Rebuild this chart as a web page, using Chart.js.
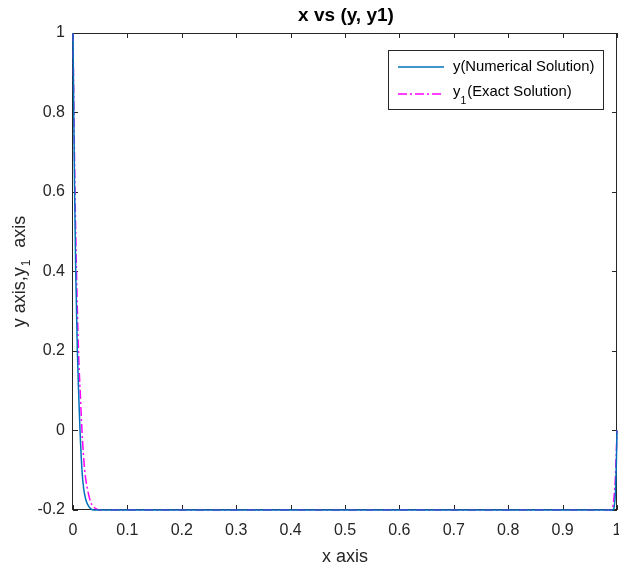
<!DOCTYPE html>
<html>
<head>
<meta charset="utf-8">
<script src="https://cdn.jsdelivr.net/npm/chart.js@4"></script>
<style>
html,body{margin:0;padding:0;background:#fff;}
#wrap{width:619px;height:569px;position:relative;}
</style>
</head>
<body>
<div id="wrap"><canvas id="c" width="619" height="569"></canvas></div>
<script>
// ---- data ----
const chartTitle = "x vs (y, y1)";
const xAxisTitle = "x axis";
const seriesNames = ["y(Numerical Solution)", "(Exact Solution)"];

const xNumerical = [0, 0.0007, 0.0014, 0.003, 0.005, 0.008, 0.0105, 0.0129, 0.0165, 0.02, 0.025, 0.03, 0.037, 0.05, 0.2, 0.5, 0.8, 0.993, 0.995, 0.997, 0.998, 0.999, 1];
const yNumerical = [1, 0.9, 0.8, 0.6, 0.4, 0.2, 0.09, 0, -0.1, -0.15, -0.18, -0.193, -0.2, -0.2, -0.2, -0.2, -0.2, -0.2, -0.19, -0.16, -0.12, -0.07, 0];

const xExact = [0, 0.0008, 0.0017, 0.0037, 0.0064, 0.0101, 0.0135, 0.0165, 0.0215, 0.027, 0.0325, 0.04, 0.05, 0.2, 0.5, 0.8, 0.99, 0.993, 0.995, 0.997, 0.998, 0.999, 1];
const yExact = [1, 0.9, 0.8, 0.6, 0.4, 0.2, 0.09, 0, -0.1, -0.15, -0.18, -0.195, -0.2, -0.2, -0.2, -0.2, -0.2, -0.187, -0.16, -0.12, -0.08, -0.045, 0];

const xTickValues = [0, 0.1, 0.2, 0.3, 0.4, 0.5, 0.6, 0.7, 0.8, 0.9, 1];
const xTickLabels = ["0", "0.1", "0.2", "0.3", "0.4", "0.5", "0.6", "0.7", "0.8", "0.9", "1"];
const yTickValues = [-0.2, 0, 0.2, 0.4, 0.6, 0.8, 1];
const yTickLabels = ["-0.2", "0", "0.2", "0.4", "0.6", "0.8", "1"];

// ---- styles ----
const FONT = "'Liberation Sans', Arial, sans-serif";
const AXIS_COLOR = "#262626";
const BLUE = "#0072BD";
const MAGENTA = "#FF00FF";

const toPts = (xs, ys) => xs.map((x, i) => ({x: x, y: ys[i]}));

const decorPlugin = {
  id: 'decor',
  beforeDatasetsDraw(chart) {
    const ctx = chart.ctx;
    const a = chart.chartArea;
    const xs = chart.scales.x, ys = chart.scales.y;
    ctx.save();
    ctx.strokeStyle = AXIS_COLOR;
    ctx.lineWidth = 1;
    ctx.strokeRect(Math.round(a.left) - 0.5, Math.round(a.top) + 0.5, Math.round(a.right - a.left), Math.round(a.bottom - a.top) - 1);
    const tl = 5;
    ctx.beginPath();
    xTickValues.forEach(v => {
      const px = Math.round(xs.getPixelForValue(v)) + 0.5;
      ctx.moveTo(px, a.bottom); ctx.lineTo(px, a.bottom - tl);
      ctx.moveTo(px, a.top); ctx.lineTo(px, a.top + tl);
    });
    yTickValues.forEach(v => {
      const py = Math.round(ys.getPixelForValue(v)) + 0.5;
      ctx.moveTo(a.left, py); ctx.lineTo(a.left + tl, py);
      ctx.moveTo(a.right, py); ctx.lineTo(a.right - tl, py);
    });
    ctx.stroke();
    ctx.restore();
  },
  afterDraw(chart) {
    const ctx = chart.ctx;
    const a = chart.chartArea;
    ctx.save();
    // title
    const cx = (a.left + a.right) / 2;
    ctx.fillStyle = "#000";
    ctx.font = "bold 19px " + FONT;
    ctx.textAlign = "center";
    ctx.textBaseline = "middle";
    ctx.fillText(chartTitle, cx + 1, 16);

    // x axis title
    ctx.fillStyle = AXIS_COLOR;
    ctx.font = "18px " + FONT;
    ctx.fillText(xAxisTitle, cx, 557);

    // y axis title with subscript
    ctx.save();
    ctx.translate(20, (a.top + a.bottom) / 2);
    ctx.rotate(-Math.PI / 2);
    const p1 = "y axis,y", sub = "1", p2 = "axis", gap = 13;
    ctx.font = "18px " + FONT;
    const w1 = ctx.measureText(p1).width, w3 = ctx.measureText(p2).width;
    ctx.font = "12px " + FONT;
    const w2 = ctx.measureText(sub).width;
    const start = -(w1 + w2 + gap + w3) / 2;
    ctx.textAlign = "left";
    ctx.font = "18px " + FONT;
    ctx.fillText(p1, start, 0);
    ctx.font = "12px " + FONT;
    ctx.fillText(sub, start + w1 + 1, 7);
    ctx.font = "18px " + FONT;
    ctx.fillText(p2, start + w1 + w2 + gap, 0);
    ctx.restore();

    // legend
    const bw = 215, bh = 59;
    const bx = a.right - 14 - bw, by = a.top + 17;
    ctx.fillStyle = "#fff";
    ctx.fillRect(bx, by, bw, bh);
    ctx.strokeStyle = AXIS_COLOR;
    ctx.lineWidth = 1;
    ctx.strokeRect(Math.round(bx) + 0.5, Math.round(by) + 0.5, bw, bh);
    const ds = chart.data.datasets;
    const rows = [by + 17, by + 44];
    ds.forEach((d, i) => {
      ctx.save();
      ctx.strokeStyle = d.borderColor;
      ctx.lineWidth = d.borderWidth;
      ctx.setLineDash(d.borderDash || []);
      ctx.beginPath();
      ctx.moveTo(bx + 10, rows[i]); ctx.lineTo(bx + 56, rows[i]);
      ctx.stroke();
      ctx.restore();
    });
    ctx.fillStyle = "#000";
    ctx.textAlign = "left";
    ctx.textBaseline = "middle";
    ctx.font = "14.8px " + FONT;
    const tx = bx + 65;
    ctx.fillText(seriesNames[0], tx, rows[0]);
    ctx.fillText("y", tx, rows[1] - 2);
    const wy = ctx.measureText("y").width;
    ctx.font = "10.5px " + FONT;
    ctx.fillText("1", tx + wy, rows[1] + 7);
    const w1b = ctx.measureText("1").width;
    ctx.font = "14.8px " + FONT;
    ctx.fillText(seriesNames[1], tx + wy + w1b + 1, rows[1] - 2);
    ctx.restore();
  }
};

new Chart(document.getElementById('c'), {
  type: 'line',
  data: {
    datasets: [
      {
        label: seriesNames[0],
        data: toPts(xNumerical, yNumerical),
        borderColor: BLUE,
        borderWidth: 1.5,
        pointRadius: 0,
        cubicInterpolationMode: 'monotone',
        clip: 2,
        fill: false
      },
      {
        label: "y1" + seriesNames[1],
        data: toPts(xExact, yExact),
        borderColor: MAGENTA,
        borderWidth: 1.5,
        borderDash: [9, 3, 2, 3],
        pointRadius: 0,
        cubicInterpolationMode: 'monotone',
        clip: 2,
        fill: false
      }
    ]
  },
  plugins: [decorPlugin],
  options: {
    responsive: false,
    animation: false,
    events: [],
    layout: { padding: { top: 33, right: 2, left: 0, bottom: 0 } },
    plugins: {
      legend: { display: false },
      title: { display: false },
      tooltip: { enabled: false }
    },
    scales: {
      x: {
        type: 'linear',
        min: 0, max: 1,
        afterBuildTicks: s => { s.ticks = xTickValues.map(v => ({value: v})); },
        afterFit: s => { s.height = 59; s.paddingLeft = 0; s.paddingRight = 0; },
        grid: { display: false, drawTicks: false },
        border: { display: false },
        ticks: {
          color: AXIS_COLOR,
          font: { family: FONT, size: 16 },
          padding: 11,
          maxRotation: 0,
          autoSkip: false,
          callback: (v, i) => xTickLabels[i]
        }
      },
      y: {
        type: 'linear',
        min: -0.2, max: 1,
        afterBuildTicks: s => { s.ticks = yTickValues.map(v => ({value: v})); },
        afterFit: s => { s.width = 73; s.paddingTop = 0; s.paddingBottom = 0; },
        grid: { display: false, drawTicks: false },
        border: { display: false },
        ticks: {
          color: AXIS_COLOR,
          font: { family: FONT, size: 16 },
          padding: 8,
          autoSkip: false,
          callback: (v, i) => yTickLabels[i]
        }
      }
    }
  }
});
</script>
</body>
</html>
